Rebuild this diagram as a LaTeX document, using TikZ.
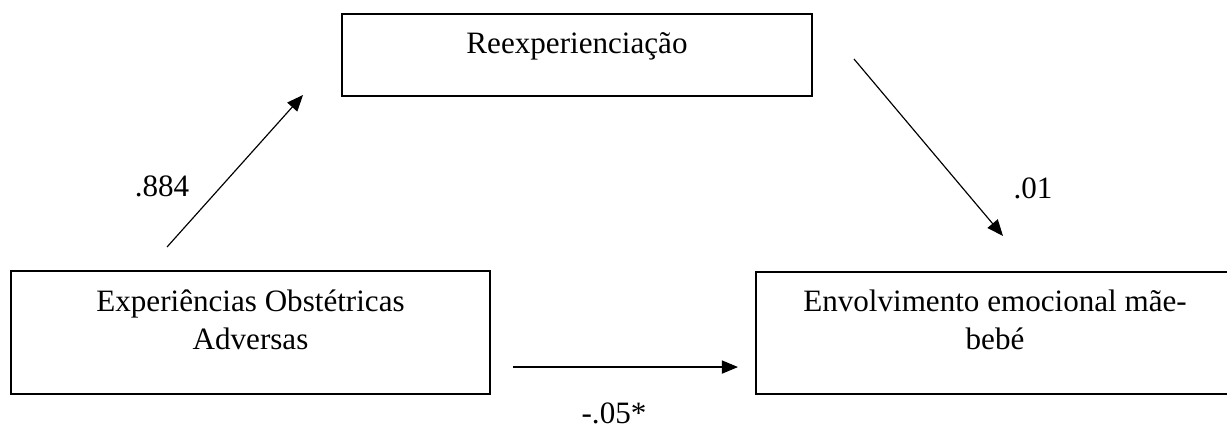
\documentclass[tikz,border=0pt]{standalone}
\usepackage{fontspec}
\setmainfont{Liberation Serif}
\usetikzlibrary{arrows.meta, positioning}
\tikzset{
    >={Triangle[length=2.2mm, width=1.8mm]}, % filled arrow heads
    path/.style={->, line width=0.45pt},
    box/.style={
        rectangle, draw=black, line width=0.8pt, inner sep=0pt, align=center,
        font=\fontsize{12}{14.3}\selectfont,
    },
    coef/.style={font=\fontsize{12}{14}\selectfont, anchor=base},
}

\begin{document}
\begin{tikzpicture}
        \useasboundingbox (0,0) rectangle (16.638,-5.777);
        % Nodes
        \node[box, anchor=north, minimum width=6.373cm, text height=0.542cm, text depth=0.570cm] (reex) at (7.824,-0.176) {Reexperienciação};
        \node[box, anchor=north, minimum width=6.495cm, text height=1.058cm, text depth=0.610cm] (obst) at (3.397,-3.661) {Experiências Obstétricas\\Adversas};
        \node[box, anchor=north, minimum width=6.482cm, text height=1.044cm, text depth=0.610cm] (envo) at (13.492,-3.675) {Envolvimento emocional mãe-\\bebé};

        % Coefficients
        \node[coef] (a) at (2.197,-2.671) {.884};
        \node[coef] (b) at (14.007,-2.685) {.01};
        \node[coef] (c) at (8.326,-5.736) {-.05*};

        % Free ends of the paths
        \coordinate (a0) at (2.265,-3.349);
        \coordinate (a1) at (4.109,-1.288);
        \coordinate (b0) at (11.580,-0.800);
        \coordinate (b1) at (13.601,-3.200);
        \coordinate (c0) at (6.956,-4.977);
        \coordinate (c1) at (10.007,-4.977);

        % Draw lines
        \draw[path] (a0) -- (a1);
        \draw[path] (b0) -- (b1);
        \draw[path] (c0) -- (c1);
    \end{tikzpicture}
\end{document}
